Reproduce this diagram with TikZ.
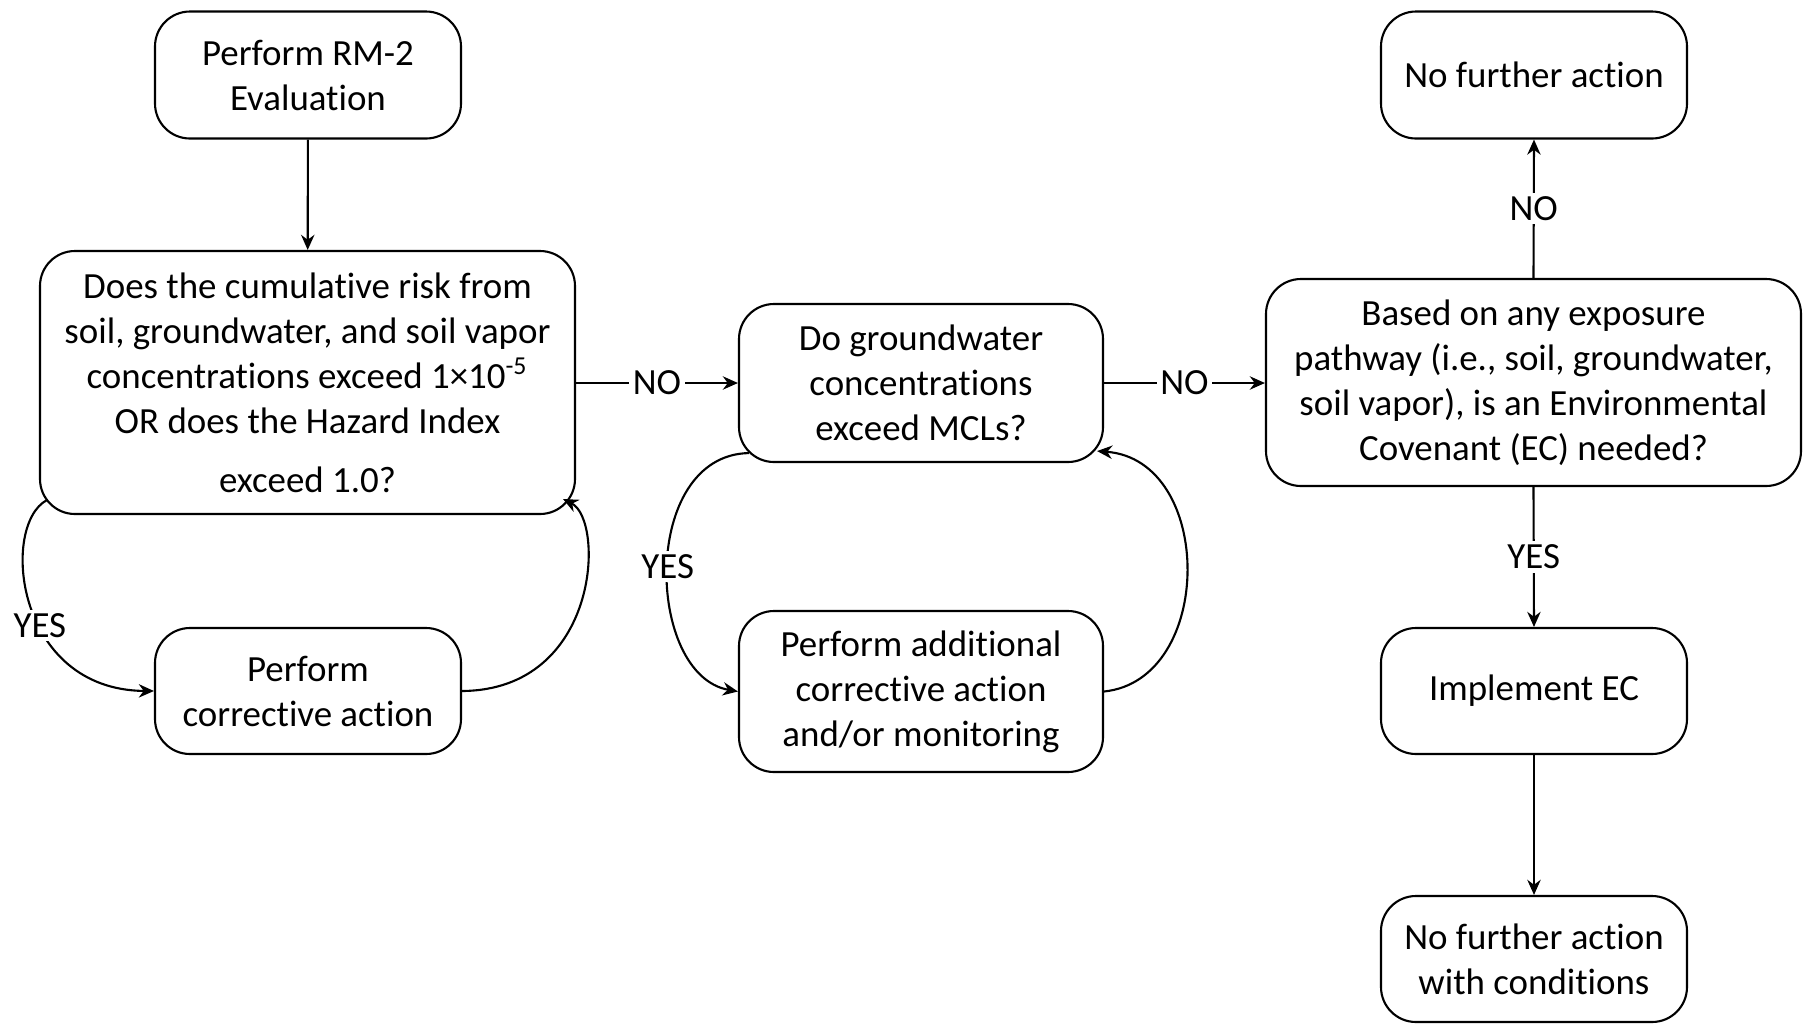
\documentclass[tikz,border=0pt]{standalone}
\usepackage{fontspec}
\setmainfont{Carlito}[Ligatures={NoCommon,NoContextual,NoRequired},Contextuals=NoAlternate]
\usetikzlibrary{arrows.meta}

\begin{document}
\begin{tikzpicture}[
    box/.style={draw,rounded corners=0.35cm,align=center,line width=0.6pt,
      font=\fontsize{10.5}{12.8}\selectfont,inner sep=0pt},
    arr/.style={-{Stealth[length=4.3pt,width=3.8pt]},line width=0.6pt},
    lbl/.style={fill=white,inner sep=1pt,font=\fontsize{10.5}{12.8}\selectfont}]
      \useasboundingbox (0,0) rectangle (18.03,-10.24);
      \node[box,minimum width=3.06cm,minimum height=1.27cm] (rm) at (3.08,-0.75) {Perform RM-2\\Evaluation};
      \node[box,minimum width=5.35cm,minimum height=2.63cm] (risk) at (3.075,-3.825)
        {Does the cumulative risk from\\soil, groundwater, and soil vapor\\concentrations exceed 1×10\textsuperscript{-5}\\OR does the Hazard Index\\[4pt]exceed 1.0?};
      \node[box,minimum width=3.06cm,minimum height=1.26cm] (corr) at (3.08,-6.91) {Perform\\corrective action};
      \node[box,minimum width=3.64cm,minimum height=1.58cm] (gw) at (9.21,-3.83) {Do groundwater\\concentrations\\exceed MCLs?};
      \node[box,minimum width=3.64cm,minimum height=1.61cm] (addl) at (9.21,-6.915) {Perform additional\\corrective action\\and/or monitoring};
      \node[box,minimum width=5.35cm,minimum height=2.07cm] (ec) at (15.335,-3.825)
        {Based on any exposure\\pathway (i.e., soil, groundwater,\\soil vapor), is an Environmental\\Covenant (EC) needed?};
      \node[box,minimum width=3.06cm,minimum height=1.27cm] (nfa) at (15.34,-0.75) {No further action};
      \node[box,minimum width=3.06cm,minimum height=1.26cm] (impl) at (15.34,-6.91) {Implement EC};
      \node[box,minimum width=3.06cm,minimum height=1.26cm] (nfac) at (15.34,-9.59) {No further action\\with conditions};
      \draw[arr] (rm) -- (risk);
      \draw[arr] (risk.east|-gw) -- node[lbl]{NO} (gw.west);
      \draw[arr] (gw.east) -- node[lbl]{NO} (ec.west|-gw);
      \draw[arr] (ec.north) -- node[lbl]{NO} (nfa.south);
      \draw[arr] (ec.south) -- node[lbl]{YES} (impl.north);
      \draw[arr] (impl) -- (nfac);
      \draw[arr] ([shift={(0.08,0.15)}]risk.south west) .. controls (0.0,-5.25) and (0.15,-6.9) .. node[lbl,pos=0.58]{YES} (corr.west);
      \draw[arr] (corr.east) .. controls (6.0,-6.9) and (6.05,-5.2) .. ([shift={(-0.13,0.16)}]risk.south east);
      \draw[arr] ([shift={(0.11,0.1)}]gw.south west) .. controls (6.4,-4.55) and (6.45,-6.75) .. node[lbl,pos=0.5]{YES} (addl.west);
      \draw[arr] (addl.east) .. controls (12.15,-6.8) and (12.15,-4.6) .. ([shift={(-0.07,0.12)}]gw.south east);
    \end{tikzpicture}
\end{document}
